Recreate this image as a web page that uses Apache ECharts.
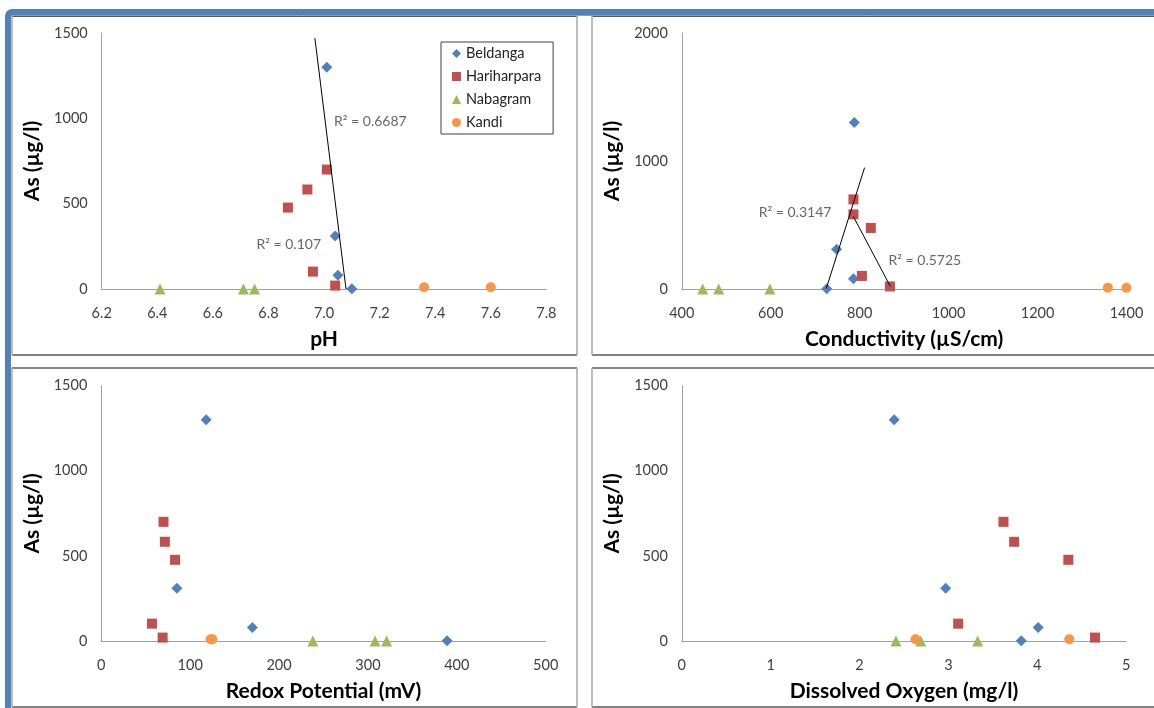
<!DOCTYPE html>
<html><head><meta charset="utf-8">
<script src="https://cdn.jsdelivr.net/npm/echarts@6/dist/echarts.min.js"></script>
<style>html,body{margin:0;padding:0;background:#fff}#c{width:1154px;height:708px}</style>
</head><body><div id="c"></div><script>
// ---------- data ----------
const sites = ['Beldanga', 'Hariharpara', 'Nabagram', 'Kandi'];

const asBeldanga = [1300, 310, 80, 2];
const asHariharpara = [700, 583, 477, 102, 20];
const asNabagram = [0, 0, 0];
const asKandi = [10, 10];

const phBeldanga = [7.01, 7.04, 7.05, 7.10];
const phHariharpara = [7.01, 6.94, 6.87, 6.96, 7.04];
const phNabagram = [6.41, 6.71, 6.75];
const phKandi = [7.36, 7.60];

const ecBeldanga = [788, 748, 786, 726];
const ecHariharpara = [786, 786, 825, 805, 868];
const ecNabagram = [447, 483, 598];
const ecKandi = [1358, 1400];

const ehBeldanga = [118, 85, 170, 389];
const ehHariharpara = [70, 71.5, 83, 57, 69];
const ehNabagram = [238, 308, 321];
const ehKandi = [123, 125];

const doBeldanga = [2.39, 2.97, 4.01, 3.82];
const doHariharpara = [3.62, 3.74, 4.35, 3.11, 4.65];
const doNabagram = [2.41, 2.69, 3.33];
const doKandi = [2.63, 4.36];

// trendline end points [x, As]
const trendPH = [[6.967, 1470], [7.079, 0]];
const trendEC1 = [[725, 5], [811, 948]];
const trendEC2 = [[786, 565], [869, 20]];

// R² values
const r2PH = ['0.6687', '0.107'];
const r2EC = ['0.3147', '0.5725'];

// axis ranges [min, max, interval]
const phAxis = [6.2, 7.8, 0.2];
const ecAxis = [400, 1400, 200];
const ehAxis = [0, 500, 100];
const doAxis = [0, 5, 1];
const asAxis1500 = [0, 1500, 500];
const asAxis2000 = [0, 2000, 1000];

const xTitles = ['pH', 'Conductivity (µS/cm)', 'Redox Potential (mV)', 'Dissolved Oxygen (mg/l)'];
const yTitle = 'As (µg/l)';

// ---------- style ----------
const FONT = 'Lato';
const colors = ['#4F81BD', '#C0504D', '#9BBB59', '#F79646'];
const symbols = ['diamond', 'rect', 'triangle', 'circle'];
const symSizes = [11, 10, 11, 10];
// label anchors (data space) for R² texts
const r2PHPos = [[7.036, 984], [6.757, 258]];
const r2ECPos = [[573, 599], [865, 221]];

const grids = [
  {left: 101.7, top: 33, width: 444.7, height: 256},
  {left: 681.8, top: 33, width: 444.7, height: 256},
  {left: 101.3, top: 385.7, width: 444.4, height: 255.3},
  {left: 681.8, top: 385.7, width: 444.3, height: 255.3}
];

function xAxis(idx, rng, name, fmt) {
  return {
    type: 'value', gridIndex: idx, min: rng[0], max: rng[1], interval: rng[2],
    name: name, nameLocation: 'middle', nameGap: 40,
    nameTextStyle: {fontFamily: FONT, fontWeight: 'bold', fontSize: 21, color: '#000'},
    axisLine: {show: true, onZero: false, lineStyle: {color: '#a0a0a0', width: 1}},
    axisTick: {show: false}, splitLine: {show: false},
    axisLabel: {margin: 17, fontFamily: FONT, fontSize: 14.5, color: '#404040',
      formatter: fmt || (v => String(v))}
  };
}
function yAxis(idx, rng) {
  return {
    type: 'value', gridIndex: idx, min: rng[0], max: rng[1], interval: rng[2],
    name: yTitle, nameLocation: 'middle', nameGap: 59,
    nameTextStyle: {fontFamily: FONT, fontWeight: 'bold', fontSize: 21, color: '#000'},
    axisLine: {show: true, lineStyle: {color: '#a0a0a0', width: 1}},
    axisTick: {show: false}, splitLine: {show: false},
    axisLabel: {margin: 14, fontFamily: FONT, fontSize: 14.5, color: '#404040',
      formatter: v => String(v)}
  };
}

const xsByPanel = [
  [phBeldanga, phHariharpara, phNabagram, phKandi],
  [ecBeldanga, ecHariharpara, ecNabagram, ecKandi],
  [ehBeldanga, ehHariharpara, ehNabagram, ehKandi],
  [doBeldanga, doHariharpara, doNabagram, doKandi]
];
const ysBySite = [asBeldanga, asHariharpara, asNabagram, asKandi];

const series = [];
xsByPanel.forEach((xsList, p) => {
  xsList.forEach((xs, s) => {
    series.push({
      type: 'scatter', name: sites[s], xAxisIndex: p, yAxisIndex: p,
      symbol: symbols[s], symbolSize: symSizes[s],
      itemStyle: {color: colors[s], opacity: 1}, z: 3,
      data: xs.map((x, i) => [x, ysBySite[s][i]])
    });
  });
});
function trend(p, pts) {
  series.push({type: 'line', xAxisIndex: p, yAxisIndex: p, data: pts, showSymbol: false,
    symbol: 'none', silent: true, z: 4, lineStyle: {color: '#000', width: 1}});
}
trend(0, trendPH); trend(1, trendEC1); trend(1, trendEC2);
function r2Labels(p, vals, pos) {
  series.push({type: 'scatter', xAxisIndex: p, yAxisIndex: p, symbolSize: 0, silent: true, z: 5,
    data: vals.map((v, i) => ({value: pos[i], name: 'R² = ' + v})),
    label: {show: true, position: 'right', distance: 0, formatter: q => q.name,
      fontFamily: FONT, fontSize: 14, color: '#404040'}});
}
r2Labels(0, r2PH, r2PHPos); r2Labels(1, r2EC, r2ECPos);

function hline(x1, x2, y, c, w) { return {type: 'line', shape: {x1, y1: y, x2, y2: y}, style: {stroke: c, lineWidth: w}, z: 1}; }
function vline(x, y1, y2, c, w) { return {type: 'line', shape: {x1: x, y1, x2: x, y2}, style: {stroke: c, lineWidth: w}, z: 1}; }
const H = '#5a5a5a', V = '#a8a8a8';
const graphic = [
  {type: 'rect', shape: {x: 5, y: 9, width: 1200, height: 720, r: [7, 0, 0, 0]}, style: {fill: '#4F81BD'}, z: -2},
  {type: 'rect', shape: {x: 11, y: 15, width: 1200, height: 720}, style: {fill: '#fff'}, z: -1},
  hline(11, 1154, 15.5, '#9a9a9a', 1),
  // panel 1
  hline(12, 577, 16.5, H, 1.2), hline(12, 577, 355, H, 1.5), vline(12, 16, 355, V, 1.5), vline(577, 16, 355, V, 1.5),
  // panel 2
  hline(592, 1154, 16.5, H, 1.2), hline(592, 1154, 355, H, 1.5), vline(592, 16, 355, V, 1.5),
  // panel 3
  hline(12, 577, 368, H, 1.5), hline(12, 577, 707, H, 1.5), vline(12, 368, 707, V, 1.5), vline(577, 368, 707, V, 1.5),
  // panel 4
  hline(592, 1154, 368, H, 1.5), hline(592, 1154, 707, H, 1.5), vline(592, 368, 707, V, 1.5)
];

const chart = echarts.init(document.getElementById('c'), null, {renderer: 'canvas'});
chart.setOption({
  backgroundColor: '#fff',
  animation: false,
  grid: grids,
  xAxis: [
    xAxis(0, phAxis, xTitles[0], v => v.toFixed(1)),
    xAxis(1, ecAxis, xTitles[1]),
    xAxis(2, ehAxis, xTitles[2]),
    xAxis(3, doAxis, xTitles[3])
  ],
  yAxis: [yAxis(0, asAxis1500), yAxis(1, asAxis2000), yAxis(2, asAxis1500), yAxis(3, asAxis1500)],
  legend: {
    data: sites, orient: 'vertical', left: 441, top: 42,
    padding: [4, 12, 4, 11], itemGap: 8, itemWidth: 9, itemHeight: 9,
    borderColor: '#404040', borderWidth: 1, backgroundColor: '#fff',
    textStyle: {fontFamily: FONT, fontSize: 14.5, color: '#222', lineHeight: 14}
  },
  graphic: graphic,
  series: series
});
</script></body></html>
